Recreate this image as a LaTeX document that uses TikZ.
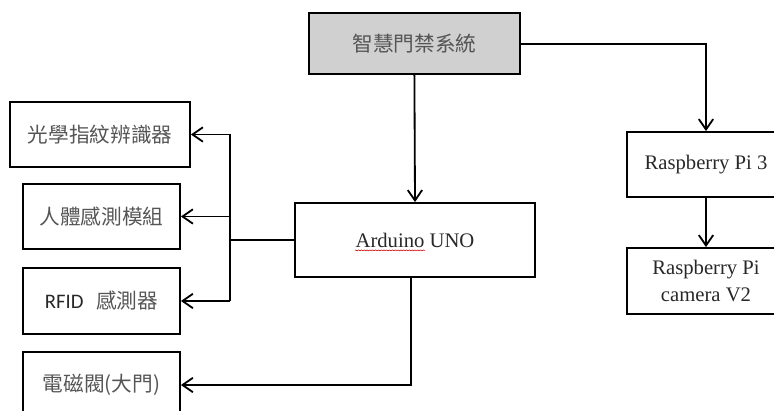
\documentclass[tikz,border=0pt]{standalone}
\usepackage{fontspec}
\setmainfont{Liberation Serif}
\newfontfamily\cjk{Noto Sans CJK TC}
\newfontfamily\calfont{Carlito}
\usepackage{xcolor}
\usepackage{tikz}
\usetikzlibrary{arrows.meta,positioning,decorations.pathmorphing}
\definecolor{boxgray}{RGB}{208,208,208}
\definecolor{cjkgray}{RGB}{85,85,85}
\definecolor{latgray}{RGB}{40,40,40}
\tikzset{blk/.style={draw,line width=1.3pt,minimum height=1.625cm,align=center,
  font=\fontsize{14.7}{19}\selectfont,text=latgray},
  zh/.style={font=\fontsize{14.7}{19}\selectfont\cjk,text=cjkgray}}

\begin{document}
\begin{tikzpicture}[>={Straight Barb[length=2.6mm,width=3.6mm]},line width=1.3pt]
\useasboundingbox (0,0) rectangle (19.35,10.25);
\node[blk,zh,fill=boxgray,minimum width=5.275cm,minimum height=1.525cm](sys)at(10.36,9.16){智慧門禁系統};
\node[blk,minimum width=6cm,minimum height=1.85cm](uno)at(10.375,4.25){Arduino UNO};
\node[blk,zh,minimum width=4.5cm](finger)at(2.5,6.8875){光學指紋辨識器};
\node[blk,zh,minimum width=3.925cm](pir)at(2.5375,4.8375){人體感測模組};
\node[blk,zh,minimum width=3.925cm,minimum height=1.65cm](rfid)at(2.5375,2.725){{\calfont\color{latgray}RFID}\hspace{0.6em}感測器};
\node[blk,zh,minimum width=3.925cm,minimum height=1.65cm](lock)at(2.5375,0.625){電磁閥(大門)};
\node[blk,minimum width=3.95cm](rpi)at(17.65,6.1375){Raspberry Pi 3};
\node[blk,minimum width=3.95cm,minimum height=1.65cm,font=\fontsize{14.7}{19}\selectfont](cam)at(17.65,3.225){Raspberry Pi\\camera V2};
% spell-check mark
\draw[red!80!black,line width=0.4pt,decorate,decoration={snake,amplitude=0.35pt,segment length=2pt}]
 ([xshift=-1.5cm,yshift=-0.26cm]uno.center)--([xshift=0.25cm,yshift=-0.26cm]uno.center);
% connectors
\coordinate(bus)at(5.75,4.25);
\draw[->](sys.south)--(uno.north);
\draw[->](sys.east)-|(rpi.north);
\draw[->](rpi.south)--(cam.north);
\draw(uno.west)--(bus);
\draw(bus|-finger.east)--(bus|-rfid.east);
\draw[->](bus|-finger.east)--(finger.east);
\draw[->](bus|-pir.east)--(pir.east);
\draw[->](bus|-rfid.east)--(rfid.east);
\draw[->]([xshift=-0.1cm]uno.south)|-(lock.east);
\end{tikzpicture}
\end{document}
